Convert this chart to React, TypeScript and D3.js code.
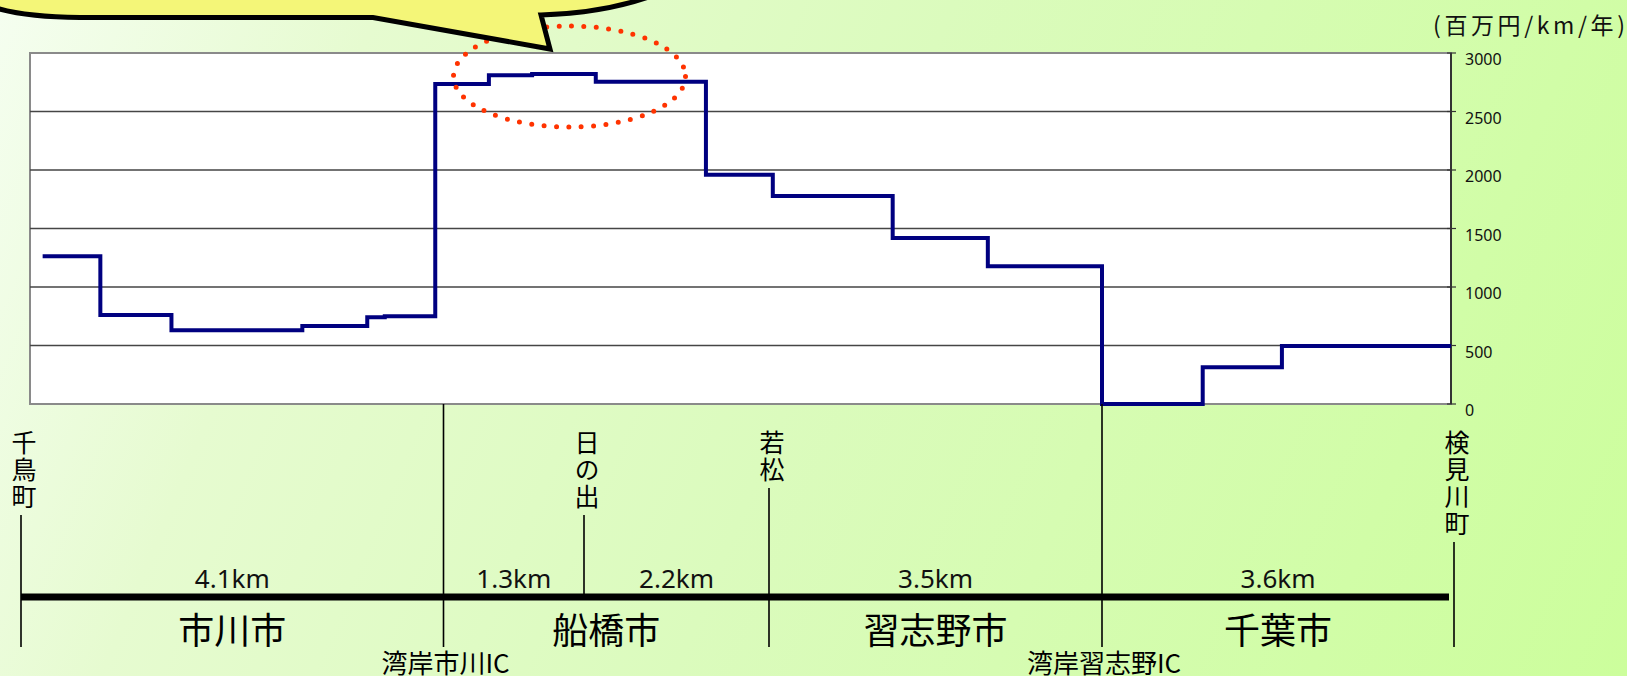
import React from "react";
import * as d3 from "d3";

// route sections (km) and their labels
const sectionLengths = [4.1, 1.3, 2.2, 3.5, 3.6];
const sectionLabels = ["4.1km", "1.3km", "2.2km", "3.5km", "3.6km"];
const stations = ["千鳥町", "湾岸市川IC", "日の出", "若松", "湾岸習志野IC", "検見川町"];
const cities = ["市川市", "船橋市", "習志野市", "千葉市"];
const cityFrom = [0, 1, 3, 4];
const cityTo = [1, 3, 4, 5];

// step profile: start of each step (km) and value (百万円/km/年)
const stepKm = [0.21, 0.77, 1.46, 2.73, 3.36, 3.53, 4.02, 4.52, 4.92, 5.54, 6.85, 7.64, 8.9, 9.9, 11.1, 12.13, 12.94];
const stepValue = [1262, 761, 631, 667, 741, 750, 2735, 2809, 2821, 2755, 1960, 1778, 1419, 1177, 0, 314, 496];
const stepEndKm = 14.67;

const yTicks = [0, 500, 1000, 1500, 2000, 2500, 3000];
const unitLabel = "(百万円/km/年)";

const W = 1627;
const H = 676;
const plot = { left: 30, right: 1451, top: 53, bottom: 404 };
const roadY = 597;
const cjk = "'Noto Sans CJK JP', sans-serif";
const latin = "'Noto Sans', sans-serif";

const App: React.FC = () => {
  const stationKm = sectionLengths.reduce<number[]>((acc, d) => [...acc, +(acc[acc.length - 1] + d).toFixed(2)], [0]);

  // schematic route: each section has its own px length
  const x = d3.scaleLinear().domain(stationKm).range([21, 443.5, 584, 769, 1102, 1454]);
  const y = d3.scaleLinear().domain([0, 3000]).range([plot.bottom, plot.top]);

  const pts: [number, number][] = stepKm.map((k, i) => [k, stepValue[i]]);
  pts.push([stepEndKm, stepValue[stepValue.length - 1]]);
  const line = d3
    .line<[number, number]>()
    .x((d) => x(d[0]))
    .y((d) => y(d[1]))
    .curve(d3.curveStepAfter);

  const boundaries = new Set([...cityFrom, ...cityTo]);
  const charStep = 27;
  const labelTop = 430;

  return (
    <svg width={W} height={H} style={{ position: "absolute", left: 0, top: 0, display: "block" }}>
      <defs>
        <linearGradient id="bg" gradientUnits="userSpaceOnUse" x1={0} y1={0} x2={W} y2={H}>
          <stop offset="0" stopColor="#f5fef0" />
          <stop offset="0.2" stopColor="#e6fbd0" />
          <stop offset="0.5" stopColor="#dbfbbd" />
          <stop offset="1" stopColor="#ccfe9c" />
        </linearGradient>
      </defs>
      <rect width={W} height={H} fill="url(#bg)" />

      {/* plot area */}
      <rect x={plot.left} y={plot.top} width={plot.right - plot.left} height={plot.bottom - plot.top} fill="#fff" stroke="#8a8a8a" strokeWidth={2} />
      {yTicks.slice(1, -1).map((t) => (
        <line key={t} x1={plot.left} x2={plot.right} y1={y(t)} y2={y(t)} stroke="#454545" strokeWidth={1.4} />
      ))}
      <line x1={plot.right} x2={plot.right} y1={plot.top} y2={plot.bottom} stroke="#333" strokeWidth={2} />
      {yTicks.map((t) => (
        <g key={t}>
          <line x1={plot.right - 4} x2={plot.right + 5} y1={y(t)} y2={y(t)} stroke="#333" strokeWidth={1.2} />
          <text x={1465} y={y(t) + 6} dominantBaseline="central" fontFamily={latin} fontSize={16} fill="#111">
            {t}
          </text>
        </g>
      ))}
      <text x={1433} y={34} fontFamily={cjk} fontSize={23} textLength={192} lengthAdjust="spacing" fill="#111">
        {unitLabel}
      </text>

      <path d={line(pts) || ""} fill="none" stroke="#000080" strokeWidth={4} />

      {/* highlight ellipse and callout */}
      <ellipse cx={569.5} cy={76.5} rx={116} ry={50.5} fill="none" stroke="#ff3300" strokeWidth={5} strokeDasharray="0 12.4" strokeLinecap="round" />
      <path
        d="M -10 -20 L -10 6 Q 20 17 80 17.5 L 373 17.5 L 550 49 L 541 15 Q 610 13 662 -8 L 662 -20 Z"
        fill="#f4f678"
        stroke="#000"
        strokeWidth={5}
      />

      {/* route diagram */}
      {stations.map((s, i) => {
        const sx = x(stationKm[i]);
        const isIC = s.endsWith("IC");
        const n = Array.from(s).length;
        const top = isIC ? plot.bottom : labelTop + n * charStep + 4;
        const bottom = boundaries.has(i) ? 647 : roadY;
        return (
          <g key={s}>
            <line x1={sx} x2={sx} y1={top} y2={bottom} stroke="#000" strokeWidth={1.6} />
            {isIC ? (
              <text x={sx + 2} y={661} textAnchor="middle" dominantBaseline="central" fontFamily={cjk} fontSize={26} fill="#000">
                {s}
              </text>
            ) : (
              <text
                x={sx + 3}
                y={labelTop}
                style={{ writingMode: "vertical-rl", letterSpacing: `${charStep - 25}px` }}
                fontFamily={cjk}
                fontSize={25}
                fill="#000"
              >
                {s}
              </text>
            )}
          </g>
        );
      })}
      <line x1={x(0)} x2={x(stationKm[stationKm.length - 1]) - 5} y1={roadY} y2={roadY} stroke="#000" strokeWidth={7} />
      {sectionLabels.map((l, i) => (
        <text key={l} x={(x(stationKm[i]) + x(stationKm[i + 1])) / 2} y={588} textAnchor="middle" fontFamily={latin} fontSize={26} fill="#111">
          {l}
        </text>
      ))}
      {cities.map((c, i) => (
        <text
          key={c}
          x={(x(stationKm[cityFrom[i]]) + x(stationKm[cityTo[i]])) / 2}
          y={628}
          textAnchor="middle"
          dominantBaseline="central"
          fontFamily={cjk}
          fontSize={36}
          fill="#000"
        >
          {c}
        </text>
      ))}
    </svg>
  );
};

export default App;
